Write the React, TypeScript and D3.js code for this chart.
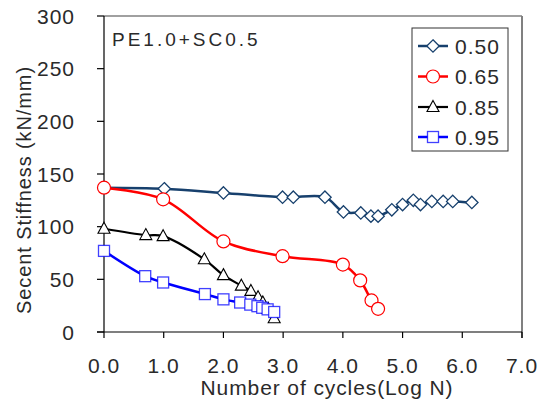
import React from "react";
import * as d3 from "d3";

const x050 = [0, 1.01, 2.0, 2.99, 3.17, 3.7, 4.01, 4.3, 4.47, 4.59, 4.82, 5.0, 5.18, 5.3, 5.49, 5.68, 5.84, 6.16];
const y050 = [137, 136, 132, 128, 128, 128, 114, 113, 110, 110, 116, 121, 125, 121, 124, 124, 124, 123];
const x065 = [0, 0.99, 2.0, 2.99, 4.0, 4.29, 4.48, 4.59];
const y065 = [137, 126, 86, 72, 64, 49, 30, 22];
const x085 = [0, 0.7, 0.99, 1.68, 2.0, 2.3, 2.46, 2.58, 2.66, 2.75, 2.85];
const y085 = [98, 92, 91, 69, 54, 44, 39, 33, 28, 22, 13];
const x095 = [0, 0.69, 0.99, 1.69, 2.0, 2.28, 2.45, 2.57, 2.65, 2.74, 2.85];
const y095 = [77, 53, 47, 36, 31, 28, 26, 24.5, 23, 21.5, 19];

const seriesNames = ["0.50", "0.65", "0.85", "0.95"];
const xTicks = [0, 1, 2, 3, 4, 5, 6, 7];
const yTicks = [0, 50, 100, 150, 200, 250, 300];
const annotation = "PE1.0+SC0.5";
const xTitle = "Number of cycles(Log N)";
const yTitle = "Secent Stiffness (kN/mm)";

const W = 541, H = 403;
const L = 104, R = 522, T = 16, B = 332;
const FONT = "'Liberation Sans', Arial, sans-serif";

const series = [
  { name: seriesNames[0], xs: x050, ys: y050, color: "#17406d", shape: "diamond", width: 2.5 },
  { name: seriesNames[1], xs: x065, ys: y065, color: "#ff0000", shape: "circle", width: 2.5 },
  { name: seriesNames[2], xs: x085, ys: y085, color: "#000000", shape: "triangle", width: 2.2 },
  { name: seriesNames[3], xs: x095, ys: y095, color: "#0000ff", shape: "square", width: 2.5 },
];

function Marker({ shape, x, y, color }: { shape: string; x: number; y: number; color: string }) {
  if (shape === "diamond") {
    const s = 6.2;
    return <path d={`M${x},${y - s}L${x + s},${y}L${x},${y + s}L${x - s},${y}Z`} fill="white" stroke={color} strokeWidth={1.3} />;
  }
  if (shape === "circle") {
    return <circle cx={x} cy={y} r={6.5} fill="white" stroke={color} strokeWidth={1.2} />;
  }
  if (shape === "triangle") {
    return <path d={`M${x},${y - 6.5}L${x + 6},${y + 4.5}L${x - 6},${y + 4.5}Z`} fill="white" stroke={color} strokeWidth={1.1} />;
  }
  return <rect x={x - 5.5} y={y - 5.5} width={11} height={11} fill="white" stroke={color} strokeWidth={1.3} strokeOpacity={0.75} />;
}

export default function App() {
  const xs = d3.scaleLinear().domain([0, 7]).range([L, R]);
  const ys = d3.scaleLinear().domain([0, 300]).range([B, T]);
  const line = d3
    .line<[number, number]>()
    .x((d) => xs(d[0]))
    .y((d) => ys(d[1]))
    .curve(d3.curveCatmullRom.alpha(0.5));

  const legX = 412, legY = 28;
  const legRows = [46, 76.5, 107, 137];

  return (
    <svg width={W} height={H} style={{ position: "absolute", left: 0, top: 0, background: "white" }} fontFamily={FONT}>
      <rect x={0} y={0} width={W} height={H} fill="white" />
      {/* frame */}
      <line x1={L} y1={T} x2={R} y2={T} stroke="#808080" strokeWidth={1.5} />
      <line x1={R} y1={T} x2={R} y2={B + 6} stroke="#808080" strokeWidth={2} />
      <line x1={L} y1={T} x2={L} y2={B} stroke="#000" strokeWidth={1.2} />
      <line x1={L - 7} y1={B} x2={R} y2={B} stroke="#000" strokeWidth={1.2} />
      {yTicks.map((t) => (
        <g key={"y" + t}>
          <line x1={L - 7} x2={L} y1={ys(t)} y2={ys(t)} stroke="#000" strokeWidth={1.2} />
          <text x={75} y={ys(t) + 7.5} textAnchor="end" fontSize={21} letterSpacing={1} fill="#2a2a2a">
            {t}
          </text>
        </g>
      ))}
      {xTicks.map((t) => (
        <g key={"x" + t}>
          <line x1={xs(t)} x2={xs(t)} y1={B} y2={B + 6} stroke="#000" strokeWidth={1.2} />
          <text x={xs(t)} y={373} textAnchor="middle" fontSize={21} letterSpacing={1} fill="#2a2a2a">
            {t.toFixed(1)}
          </text>
        </g>
      ))}
      <text x={327} y={395} textAnchor="middle" fontSize={21} letterSpacing={0.9} fill="#2a2a2a">
        {xTitle}
      </text>
      <text transform={`translate(31,190) rotate(-90)`} textAnchor="middle" fontSize={20} letterSpacing={0.9} fill="#2a2a2a">
        {yTitle}
      </text>
      <text x={112} y={46} fontSize={19} letterSpacing={3} fill="#2a2a2a">
        {annotation}
      </text>
      {/* series */}
      {series.map((s) => {
        const pts = s.xs.map((x, i) => [x, s.ys[i]] as [number, number]);
        return (
          <g key={s.name}>
            <path d={line(pts) || ""} fill="none" stroke={s.color} strokeWidth={s.width} />
            {pts.map((p, i) => (
              <Marker key={i} shape={s.shape} x={xs(p[0])} y={ys(p[1])} color={s.color} />
            ))}
          </g>
        );
      })}
      {/* legend */}
      <rect x={legX} y={legY} width={96} height={123} fill="white" stroke="#333" strokeWidth={1} />
      {series.map((s, i) => (
        <g key={"leg" + s.name}>
          <line x1={418} x2={448} y1={legRows[i]} y2={legRows[i]} stroke={s.color} strokeWidth={s.width} />
          <Marker shape={s.shape} x={433} y={legRows[i]} color={s.color} />
          <text x={455} y={legRows[i] + 7.5} fontSize={21} letterSpacing={1} fill="#2a2a2a">
            {s.name}
          </text>
        </g>
      ))}
    </svg>
  );
}
